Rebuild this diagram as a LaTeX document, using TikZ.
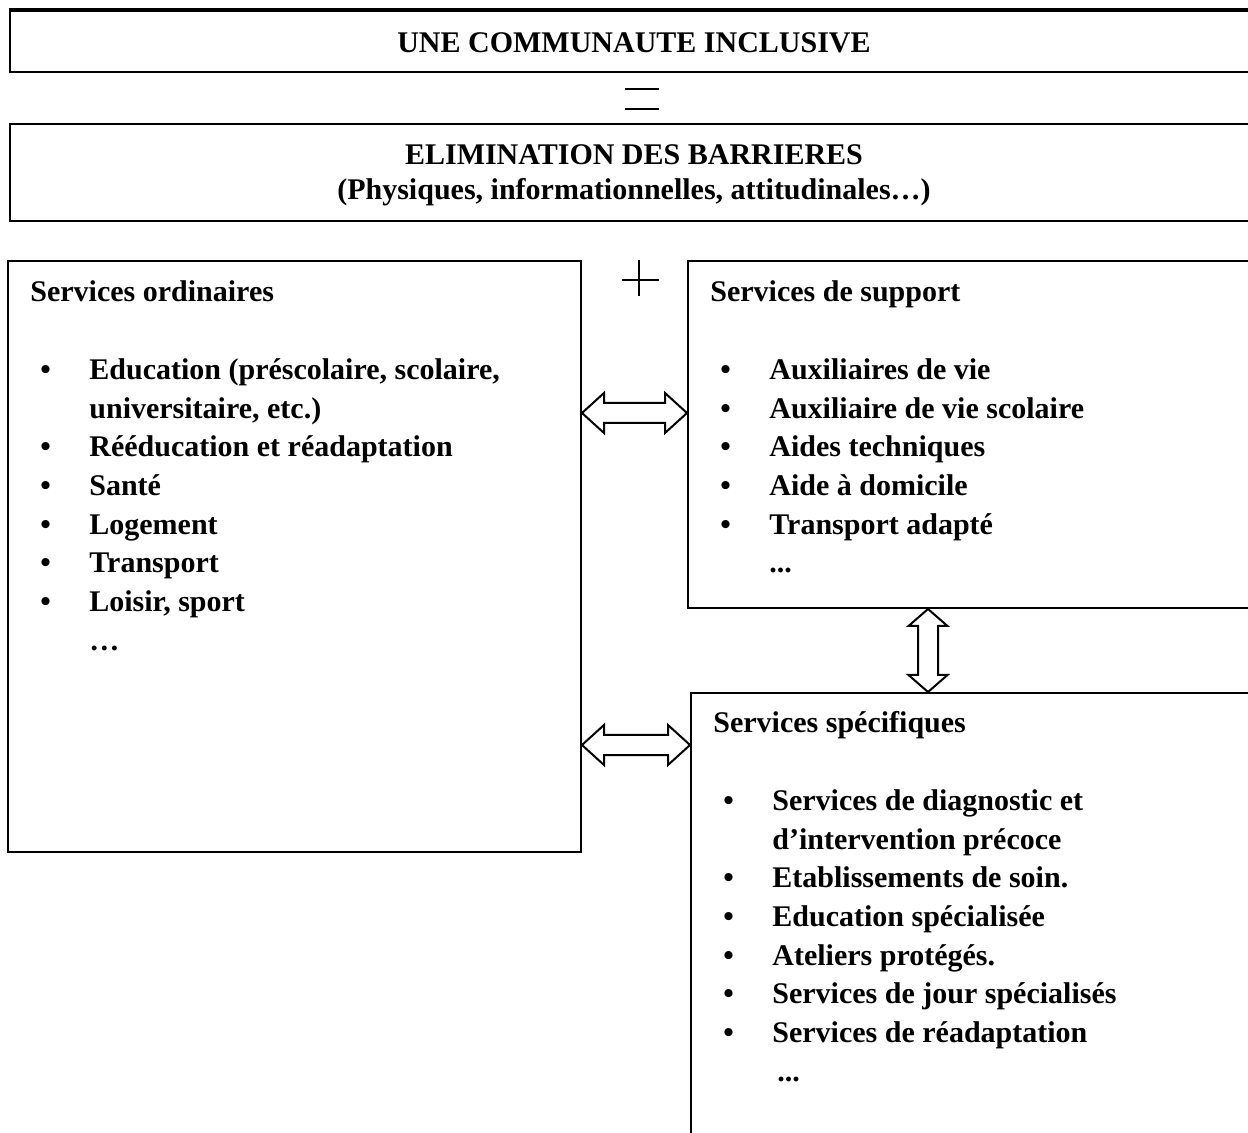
\documentclass[tikz,border=0pt]{standalone}
\usepackage{fontspec}
\setmainfont{Liberation Serif}
\usetikzlibrary{fit,calc}
\newcommand\itm[1]{\hspace*{5pt}\makebox[24.5pt][l]{•}#1}
\newcommand\cont[1]{\hspace*{29.5pt}#1}
\newcommand\harrow[2]{\draw[arr] (#1) -- ($(#1)+(22,-20)$) -- ($(#1)+(22,-10)$) -- ($(#2)+(-22,-10)$) -- ($(#2)+(-22,-20)$) -- (#2) -- ($(#2)+(-22,20)$) -- ($(#2)+(-22,10)$) -- ($(#1)+(22,10)$) -- ($(#1)+(22,20)$) -- cycle;}
\newcommand\varrow[2]{\draw[arr] (#1) -- ($(#1)+(19.5,17)$) -- ($(#1)+(10,17)$) -- ($(#2)+(10,-17)$) -- ($(#2)+(19.5,-17)$) -- (#2) -- ($(#2)+(-19.5,-17)$) -- ($(#2)+(-10,-17)$) -- ($(#1)+(-10,17)$) -- ($(#1)+(-19.5,17)$) -- cycle;}
\begin{document}
\begin{tikzpicture}[x=0.5pt,y=-0.5pt,
  box/.style={draw, line width=1pt, inner sep=0pt, fit={#1}},
  head/.style={inner sep=0pt, anchor=base, font=\bfseries\fontsize{15}{18}\selectfont},
  lst/.style={inner sep=0pt, anchor=base west, font=\bfseries\fontsize{15}{19.35}\selectfont},
  arr/.style={draw, line width=1pt, fill=white, line join=miter},
  sign/.style={line width=1pt}]
\clip (0,0) rectangle (1248,1133);
\fill[white] (0,0) rectangle (1248,1133);
% boxes
\node[box={(10,11)(1262,72)}] (top) {};
\draw[line width=1.6pt] (top.north west) -- (top.north east);
\node[box={(10,124)(1262,221)}] (elim) {};
\node[box={(8,261)(581,852)}] (ord) {};
\node[box={(688,261)(1262,608)}] (sup) {};
\node[box={(691,693)(1262,1150)}] (spec) {};
% headings
\node[head] (t1) at (634,53) {UNE COMMUNAUTE INCLUSIVE};
\node[head] (t2) at (634,165) {ELIMINATION DES BARRIERES};
\node[head] (t3) at (634,200) {(Physiques, informationnelles, attitudinales…)};
% = sign
\coordinate (eqL1) at (625,89); \coordinate (eqR1) at (659,89);
\coordinate (eqL2) at (625,109); \coordinate (eqR2) at (659,109);
\draw[sign] (eqL1) -- (eqR1);
\draw[sign] (eqL2) -- (eqR2);
% + sign
\coordinate (plT) at (639,260); \coordinate (plB) at (639,296);
\coordinate (plL) at (622,280); \coordinate (plR) at (659,280);
\draw[line width=0.8pt] (plT) -- (plB);
\draw[line width=0.8pt] (plL) -- (plR);
% lists
\node[lst] (ordtxt) at (30,302) {\begin{tabular}[t]{@{}l@{}}
Services ordinaires\\
\\
\itm{Education (préscolaire, scolaire,}\\
\cont{universitaire, etc.)}\\
\itm{Rééducation et réadaptation}\\
\itm{Santé}\\
\itm{Logement}\\
\itm{Transport}\\
\itm{Loisir, sport}\\
\cont{…}
\end{tabular}};
\node[lst] (suptxt) at (710,302) {\begin{tabular}[t]{@{}l@{}}
Services de support\\
\\
\itm{Auxiliaires de vie}\\
\itm{Auxiliaire de vie scolaire}\\
\itm{Aides techniques}\\
\itm{Aide à domicile}\\
\itm{Transport adapté}\\
\cont{...}
\end{tabular}};
\node[lst] (spectxt) at (713,733) {\begin{tabular}[t]{@{}l@{}}
Services spécifiques\\
\\
\itm{Services de diagnostic et}\\
\cont{d’intervention précoce}\\
\itm{Etablissements de soin.}\\
\itm{Education spécialisée}\\
\itm{Ateliers protégés.}\\
\itm{Services de jour spécialisés}\\
\itm{Services de réadaptation}\\
\cont{\,...}
\end{tabular}};
% arrows
\coordinate (y1) at (0,413);
\coordinate (y2) at (0,745);
\coordinate (x3) at (928,0);
\coordinate (a1L) at (ord.east |- y1);
\coordinate (a1R) at (sup.west |- y1);
\coordinate (a2L) at (ord.east |- y2);
\coordinate (a2R) at (spec.west |- y2);
\coordinate (a3T) at (sup.south -| x3);
\coordinate (a3B) at (spec.north -| x3);
\harrow{a1L}{a1R}
\harrow{a2L}{a2R}
\varrow{a3T}{a3B}
\end{tikzpicture}
\end{document}
